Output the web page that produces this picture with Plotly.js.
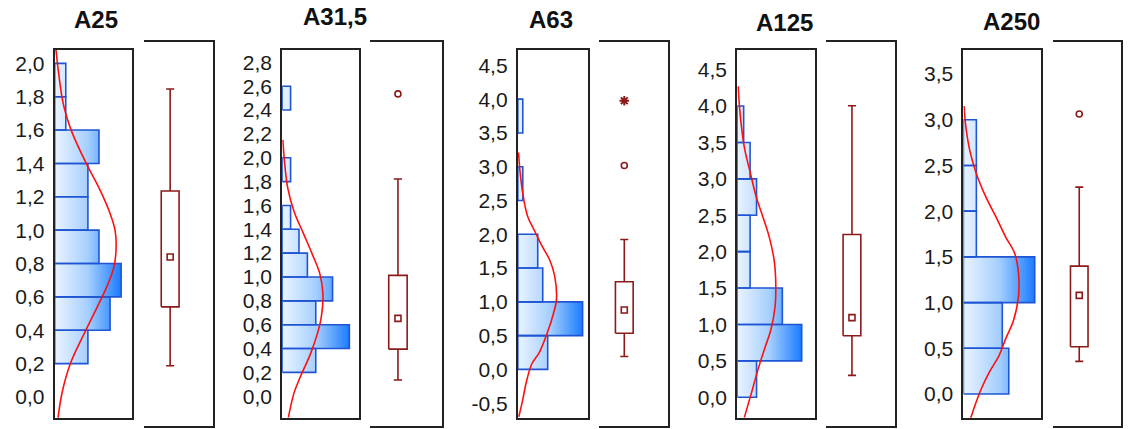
<!DOCTYPE html>
<html><head><meta charset="utf-8">
<script src="https://cdn.plot.ly/plotly-3.0.1.min.js"></script>
<style>html,body{margin:0;padding:0;background:#fff}#chart{width:1128px;height:429px}</style>
</head><body><div id="chart"></div>
<script>
// ---------- DATA ----------
const panelTitles = ['A25', 'A31,5', 'A63', 'A125', 'A250'];

// histogram: lower bin edges, counts, bin widths
const a25Bins = [0.2, 0.4, 0.6, 0.8, 1.0, 1.2, 1.4, 1.6, 1.8];
const a25Counts = [3, 5, 6, 4, 3, 3, 4, 1, 1];
const a315Bins = [0.2, 0.4, 0.6, 0.8, 1.0, 1.2, 1.4, 1.8, 2.4];
const a315Counts = [4, 8, 4, 6, 3, 2, 1, 1, 1];
const a63Bins = [0.0, 0.5, 1.0, 1.5, 2.5, 3.5];
const a63Counts = [6, 13, 5, 4, 1, 1];
const a125Bins = [0.0, 0.5, 1.0, 1.5, 2.0, 2.5, 3.0, 3.5];
const a125Counts = [3, 10, 7, 2, 2, 3, 2, 1];
const a250Bins = [0.0, 0.5, 1.0, 1.5, 2.0, 2.5];
const a250Counts = [7, 6, 11, 2, 2, 2];
const binWidths = [0.2, 0.2, 0.5, 0.5, 0.5];

// fitted normal curves (value, expected count)
const a25CurveY = [2.08, 1.97, 1.77, 1.68, 1.58, 1.40, 1.24, 1.10, 1.00, 0.90, 0.78, 0.66, 0.54, 0.385, 0.206, 0.03, -0.125];
const a25CurveX = [0.12, 0.3, 0.73, 1.08, 1.6, 2.85, 4.1, 5.0, 5.45, 5.55, 5.35, 4.7, 3.85, 2.7, 1.45, 0.68, 0.3];
const a315CurveY = [2.15, 1.97, 1.75, 1.55, 1.36, 1.19, 1.03, 0.86, 0.665, 0.527, 0.347, 0.166, 0.028, -0.18];
const a315CurveX = [0.08, 0.27, 0.65, 1.41, 2.56, 3.59, 4.47, 4.85, 4.66, 4.2, 3.32, 2.18, 1.41, 0.73];
const a63CurveY = [3.21, 2.89, 2.50, 2.26, 2.06, 1.82, 1.62, 1.38, 1.03, 0.84, 0.54, 0.25, 0.08, -0.19, -0.48, -0.70];
const a63CurveX = [0.15, 0.5, 1.23, 2.0, 3.3, 4.9, 6.4, 7.4, 7.75, 7.2, 5.9, 4.3, 2.8, 1.7, 0.9, 0.2];
const a125CurveY = [4.27, 4.0, 3.65, 3.39, 3.11, 2.75, 2.48, 2.20, 1.88, 1.57, 1.25, 0.93, 0.66, 0.38, 0.06, -0.28];
const a125CurveX = [0.15, 0.35, 0.75, 1.2, 1.96, 2.96, 3.97, 4.97, 5.73, 5.98, 5.88, 5.23, 4.22, 3.22, 2.21, 1.1];
const a250CurveY = [3.15, 2.91, 2.66, 2.41, 2.15, 1.94, 1.72, 1.54, 1.32, 1.07, 0.81, 0.60, 0.42, 0.24, 0.055, -0.13, -0.27];
const a250CurveX = [0.1, 0.4, 1.0, 2.0, 3.5, 5.0, 6.5, 7.9, 8.5, 8.5, 7.75, 6.5, 5.5, 4.0, 2.75, 1.75, 1.1];

// box plot statistics (median, quartiles, non-outlier range, outliers, extremes)
const boxMedian = [0.845, 0.682, 0.926, 1.141, 1.107];
const boxQ1 = [0.558, 0.434, 0.596, 0.901, 0.567];
const boxQ3 = [1.225, 1.028, 1.327, 2.237, 1.414];
const boxLow = [0.219, 0.185, 0.265, 0.379, 0.413];
const boxHigh = [1.812, 1.805, 1.927, 3.936, 2.244];
const boxOutliers = [[], [2.49], [2.98], [], [3.012]];
const boxExtremes = [[], [], [3.90], [], []];

// tick labels
const a25TickVals = [0, 0.2, 0.4, 0.6, 0.8, 1.0, 1.2, 1.4, 1.6, 1.8, 2.0];
const a25TickText = ['0,0', '0,2', '0,4', '0,6', '0,8', '1,0', '1,2', '1,4', '1,6', '1,8', '2,0'];
const a315TickVals = [0, 0.2, 0.4, 0.6, 0.8, 1.0, 1.2, 1.4, 1.6, 1.8, 2.0, 2.2, 2.4, 2.6, 2.8];
const a315TickText = ['0,0', '0,2', '0,4', '0,6', '0,8', '1,0', '1,2', '1,4', '1,6', '1,8', '2,0', '2,2', '2,4', '2,6', '2,8'];
const a63TickVals = [-0.5, 0, 0.5, 1.0, 1.5, 2.0, 2.5, 3.0, 3.5, 4.0, 4.5];
const a63TickText = ['-0,5', '0,0', '0,5', '1,0', '1,5', '2,0', '2,5', '3,0', '3,5', '4,0', '4,5'];
const a125TickVals = [0, 0.5, 1.0, 1.5, 2.0, 2.5, 3.0, 3.5, 4.0, 4.5];
const a125TickText = ['0,0', '0,5', '1,0', '1,5', '2,0', '2,5', '3,0', '3,5', '4,0', '4,5'];
const a250TickVals = [0, 0.5, 1.0, 1.5, 2.0, 2.5, 3.0, 3.5];
const a250TickText = ['0,0', '0,5', '1,0', '1,5', '2,0', '2,5', '3,0', '3,5'];

// ---------- LAYOUT CONSTANTS ----------
const W = 1128, H = 429;
const histBins = [a25Bins, a315Bins, a63Bins, a125Bins, a250Bins];
const histCounts = [a25Counts, a315Counts, a63Counts, a125Counts, a250Counts];
const curveX = [a25CurveX, a315CurveX, a63CurveX, a125CurveX, a250CurveX];
const curveY = [a25CurveY, a315CurveY, a63CurveY, a125CurveY, a250CurveY];
const tickVals = [a25TickVals, a315TickVals, a63TickVals, a125TickVals, a250TickVals];
const tickText = [a25TickText, a315TickText, a63TickText, a125TickText, a250TickText];

const histPx = [[54.7, 132.2], [282.2, 358.6], [517.8, 587.6], [737.2, 814.6], [963.4, 1041.2]];
const boxPx = [[143.7, 213.3], [370.3, 442.3], [599, 668.3], [825.7, 895], [1052.7, 1121.3]];
const histYpx = [49.5, 417.8];
const boxYpx = [42, 425.5];
const yRanges = [[-0.125, 2.083], [-0.181, 2.908], [-0.716, 4.735], [-0.282, 4.777], [-0.26, 3.768]];
const xMax = [7, 9.1, 14, 12, 12];
const boxCenter = [0.38, 0.384, 0.365, 0.379, 0.387];
const titlePos = [[96, 20], [335, 17], [551, 20], [784, 22], [1011, 21]];
const boxHalfW = 0.128, capHalfW = 0.058;

const FONT = 'Liberation Sans, Arial, sans-serif';
const BOXCOL = '#8b1a1a';
const LINECOL = '#222222';

const px2x = p => p / W;
const px2y = p => 1 - p / H;

const traces = [];
const layout = {
  width: W, height: H,
  margin: {l: 0, r: 0, t: 0, b: 0},
  paper_bgcolor: '#ffffff', plot_bgcolor: '#ffffff',
  showlegend: false,
  annotations: []
};

for (let i = 0; i < 5; i++) {
  const hx = 'x' + (2 * i + 1), hy = 'y' + (2 * i + 1);
  const bx = 'x' + (2 * i + 2), by = 'y' + (2 * i + 2);
  const hxKey = 'xaxis' + (2 * i + 1), hyKey = 'yaxis' + (2 * i + 1);
  const bxKey = 'xaxis' + (2 * i + 2), byKey = 'yaxis' + (2 * i + 2);

  // histogram bars as filled polygons
  const xs = [], ys = [];
  const bins = histBins[i], counts = histCounts[i], w = binWidths[i];
  for (let k = 0; k < bins.length; k++) {
    const c = counts[k], s = bins[k];
    xs.push(0, c, c, 0, 0, null);
    ys.push(s, s, s + w, s + w, s, null);
  }
  const maxC = Math.max(...counts);
  traces.push({
    type: 'scatter', mode: 'lines', xaxis: hx, yaxis: hy,
    x: xs, y: ys, fill: 'toself', connectgaps: false,
    fillgradient: {type: 'horizontal', start: 0, stop: maxC,
      colorscale: [[0, '#eaf4ff'], [0.5, '#a6cffd'], [1, '#1a7cff']]},
    line: {color: '#1f55d4', width: 1.6},
    hoverinfo: 'skip'
  });
  // normal curve
  traces.push({
    type: 'scatter', mode: 'lines', xaxis: hx, yaxis: hy,
    x: curveX[i], y: curveY[i],
    line: {color: '#ff1010', width: 1.6, shape: 'spline', smoothing: 1},
    hoverinfo: 'skip'
  });

  // box plot drawn with lines
  const c = boxCenter[i];
  const q1 = boxQ1[i], q3 = boxQ3[i], lo = boxLow[i], hi = boxHigh[i];
  traces.push({
    type: 'scatter', mode: 'lines', xaxis: bx, yaxis: by,
    x: [c - boxHalfW, c + boxHalfW, c + boxHalfW, c - boxHalfW, c - boxHalfW, null,
        c, c, null, c, c, null,
        c - capHalfW, c + capHalfW, null, c - capHalfW, c + capHalfW],
    y: [q1, q1, q3, q3, q1, null,
        q3, hi, null, q1, lo, null,
        hi, hi, null, lo, lo],
    line: {color: BOXCOL, width: 1.6},
    hoverinfo: 'skip'
  });
  traces.push({
    type: 'scatter', mode: 'markers', xaxis: bx, yaxis: by,
    x: [c], y: [boxMedian[i]],
    marker: {symbol: 'square-open', size: 6, color: BOXCOL, line: {color: BOXCOL, width: 1.6}},
    hoverinfo: 'skip'
  });
  if (boxOutliers[i].length) {
    traces.push({
      type: 'scatter', mode: 'markers', xaxis: bx, yaxis: by,
      x: boxOutliers[i].map(() => c), y: boxOutliers[i],
      marker: {symbol: 'circle-open', size: 6, color: BOXCOL, line: {color: BOXCOL, width: 1.6}},
      hoverinfo: 'skip'
    });
  }
  if (boxExtremes[i].length) {
    traces.push({
      type: 'scatter', mode: 'markers', xaxis: bx, yaxis: by,
      x: boxExtremes[i].map(() => c), y: boxExtremes[i],
      marker: {symbol: 'asterisk-open', size: 8, color: BOXCOL, line: {color: BOXCOL, width: 2}},
      hoverinfo: 'skip'
    });
  }

  // axes
  layout[hxKey] = {
    domain: [px2x(histPx[i][0]), px2x(histPx[i][1])], anchor: hy,
    range: [0, xMax[i]], showline: true, mirror: true, linecolor: LINECOL, linewidth: 2,
    showgrid: false, zeroline: false, showticklabels: false, ticks: '', fixedrange: true
  };
  layout[hyKey] = {
    domain: [px2y(histYpx[1]), px2y(histYpx[0])], anchor: hx,
    range: yRanges[i], showline: true, mirror: true, linecolor: LINECOL, linewidth: 2,
    showgrid: false, zeroline: false, ticks: '', tickmode: 'array',
    tickvals: tickVals[i], ticktext: tickText[i], ticklabelstandoff: 4,
    tickfont: {family: FONT, size: 21, color: '#1a1a1a'}, fixedrange: true
  };
  layout[bxKey] = {
    domain: [px2x(boxPx[i][0]), px2x(boxPx[i][1])], anchor: by,
    range: [0, 1], showline: true, mirror: true, linecolor: LINECOL, linewidth: 2,
    showgrid: false, zeroline: false, showticklabels: false, ticks: '', fixedrange: true
  };
  layout[byKey] = {
    domain: [px2y(boxYpx[1]), px2y(boxYpx[0])], anchor: bx, side: 'right',
    range: yRanges[i], showline: true, mirror: false, linecolor: LINECOL, linewidth: 2,
    showgrid: false, zeroline: false, showticklabels: false, ticks: '', fixedrange: true
  };

  layout.annotations.push({
    text: '<b>' + panelTitles[i] + '</b>', xref: 'paper', yref: 'paper',
    x: px2x(titlePos[i][0]), y: px2y(titlePos[i][1]), xanchor: 'center', yanchor: 'middle',
    showarrow: false, font: {family: FONT, size: 24, color: '#111111'}
  });
}

Plotly.newPlot('chart', traces, layout, {staticPlot: true, displayModeBar: false});
</script>
</body></html>
